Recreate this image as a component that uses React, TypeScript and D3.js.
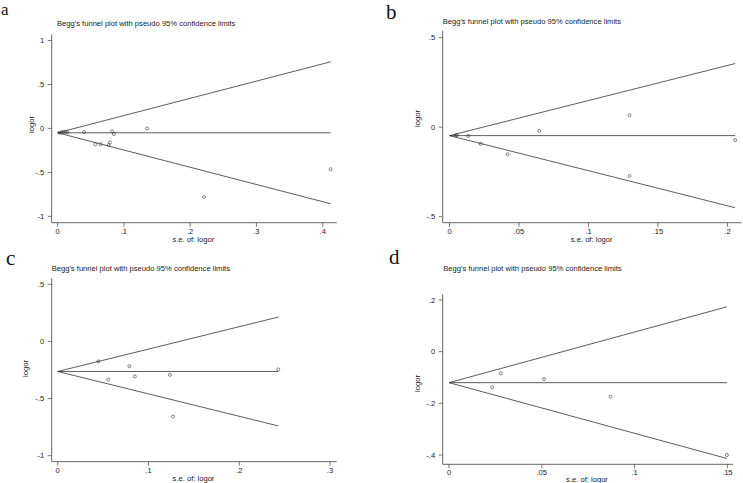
import React from "react";
import * as d3 from "d3";

const TITLE = "Begg's funnel plot with pseudo 95% confidence limits";
const X_TITLE = "s.e. of: logor";
const Y_TITLE = "logor";
const panelLetters = ["a", "b", "c", "d"];

// Panel a
const aSe = [0.003, 0.006, 0.009, 0.012, 0.015, 0.04, 0.057, 0.065, 0.077, 0.079, 0.082, 0.085, 0.135, 0.221, 0.412];
const aLogor = [-0.05, -0.045, -0.04, -0.039, -0.046, -0.042, -0.18, -0.18, -0.19, -0.16, -0.034, -0.065, 0.0, -0.78, -0.465];
const aPooled = -0.05;
const aXTicks = [0, 0.1, 0.2, 0.3, 0.4];
const aYTicks = [-1, -0.5, 0, 0.5, 1];

// Panel b
const bSe = [0.0045, 0.0053, 0.0135, 0.0224, 0.0418, 0.0645, 0.1295, 0.1295, 0.2055];
const bLogor = [-0.047, -0.043, -0.049, -0.093, -0.151, -0.021, 0.067, -0.272, -0.073];
const bPooled = -0.047;
const bXTicks = [0, 0.05, 0.1, 0.15, 0.2];
const bYTicks = [-0.5, 0, 0.5];

// Panel c
const cSe = [0.0447, 0.0557, 0.079, 0.085, 0.1237, 0.127, 0.243];
const cLogor = [-0.175, -0.333, -0.216, -0.306, -0.292, -0.657, -0.245];
const cPooled = -0.263;
const cXTicks = [0, 0.1, 0.2, 0.3];
const cYTicks = [-1, -0.5, 0, 0.5];

// Panel d
const dSe = [0.0233, 0.0279, 0.0512, 0.0871, 0.1498];
const dLogor = [-0.138, -0.084, -0.106, -0.174, -0.4];
const dPooled = -0.12;
const dXTicks = [0, 0.05, 0.1, 0.15];
const dYTicks = [-0.4, -0.2, 0, 0.2];

const FONT = "'Liberation Sans', Arial, Helvetica, sans-serif";
const INK = "#333";

const fmt = (v: number) => {
  if (v === 0) return "0";
  let s = String(+v.toFixed(3));
  s = s.replace(/^(-?)0\./, "$1.");
  return s;
};

type Layout = {
  xDomain: [number, number];
  xRange: [number, number];
  yDomain: [number, number];
  yRange: [number, number];
  yAxisX: number;
  yAxisTop: number;
  xAxisY: number;
  xAxisRight: number;
  letterX: number;
  letterY: number;
  letterSize: number;
  titleX: number;
  titleY: number;
  yTitleX: number;
  yTitleY: number;
  xTitleX: number;
  xTitleY: number;
};

const layouts: Layout[] = [
  {
    xDomain: [0, 0.4], xRange: [57.6, 322.7], yDomain: [-1, 1], yRange: [216.3, 40.5],
    yAxisX: 51.7, yAxisTop: 34.5, xAxisY: 222.7, xAxisRight: 336.7,
    letterX: 1, letterY: 15.4, letterSize: 17, titleX: 57, titleY: 25.6,
    yTitleX: 31, yTitleY: 124.5, xTitleX: 193.3, xTitleY: 241.8,
  },
  {
    xDomain: [0, 0.2], xRange: [449.5, 727.5], yDomain: [-0.5, 0.5], yRange: [216.7, 37.7],
    yAxisX: 442.7, yAxisTop: 30.7, xAxisY: 222.7, xAxisRight: 741.5,
    letterX: 386, letterY: 18.8, letterSize: 21, titleX: 442.7, titleY: 24.3,
    yTitleX: 417, yTitleY: 118.5, xTitleX: 591.7, xTitleY: 241.8,
  },
  {
    xDomain: [0, 0.3], xRange: [57.7, 330], yDomain: [-1, 0.5], yRange: [455.7, 284.3],
    yAxisX: 51.7, yAxisTop: 278.3, xAxisY: 461.7, xAxisRight: 336.7,
    letterX: 6, letterY: 265, letterSize: 21, titleX: 51.7, titleY: 270.8,
    yTitleX: 25.5, yTitleY: 368.5, xTitleX: 193.5, xTitleY: 480.8,
  },
  {
    xDomain: [0, 0.15], xRange: [449, 727.3], yDomain: [-0.4, 0.2], yRange: [455, 300],
    yAxisX: 442.7, yAxisTop: 294.3, xAxisY: 464.3, xAxisRight: 733,
    letterX: 389, letterY: 263.5, letterSize: 21, titleX: 443.3, titleY: 270.8,
    yTitleX: 417, yTitleY: 383.5, xTitleX: 587, xTitleY: 482,
  },
];

const panelData = [
  { se: aSe, logor: aLogor, pooled: aPooled, xTicks: aXTicks, yTicks: aYTicks },
  { se: bSe, logor: bLogor, pooled: bPooled, xTicks: bXTicks, yTicks: bYTicks },
  { se: cSe, logor: cLogor, pooled: cPooled, xTicks: cXTicks, yTicks: cYTicks },
  { se: dSe, logor: dLogor, pooled: dPooled, xTicks: dXTicks, yTicks: dYTicks },
];

function Panel({ idx }: { idx: number }) {
  const L = layouts[idx];
  const D = panelData[idx];
  const x = d3.scaleLinear().domain(L.xDomain).range(L.xRange);
  const y = d3.scaleLinear().domain(L.yDomain).range(L.yRange);
  const maxSe = d3.max(D.se) as number;
  const funnel = d3.line<[number, number]>().x((d) => x(d[0])).y((d) => y(d[1]));
  const funnelPts: [number, number][] = [
    [maxSe, D.pooled + 1.96 * maxSe],
    [0, D.pooled],
    [maxSe, D.pooled - 1.96 * maxSe],
  ];
  const centerPts: [number, number][] = [
    [0, D.pooled],
    [maxSe, D.pooled],
  ];
  const fs = 7.6;
  return (
    <g>
      <text x={L.letterX} y={L.letterY} fontFamily="'Liberation Serif', 'Times New Roman', serif" fontSize={L.letterSize} fill="#111">
        {panelLetters[idx]}
      </text>
      <text x={L.titleX} y={L.titleY} fontFamily={FONT} fontSize={fs} fill="#222">
        {TITLE}
      </text>
      <line x1={L.yAxisX} x2={L.yAxisX} y1={L.yAxisTop} y2={L.xAxisY} stroke="#555" strokeWidth={0.9} />
      <line x1={L.yAxisX} x2={L.xAxisRight} y1={L.xAxisY} y2={L.xAxisY} stroke="#555" strokeWidth={0.9} />
      {D.yTicks.map((t) => (
        <g key={"y" + t}>
          <line x1={L.yAxisX - 4} x2={L.yAxisX} y1={y(t)} y2={y(t)} stroke="#555" strokeWidth={0.8} />
          <text x={L.yAxisX - 7.5} y={y(t)} dy="0.35em" textAnchor="end" fontFamily={FONT} fontSize={fs} fill="#222">
            {fmt(t)}
          </text>
        </g>
      ))}
      {D.xTicks.map((t) => (
        <g key={"x" + t}>
          <line x1={x(t)} x2={x(t)} y1={L.xAxisY} y2={L.xAxisY + 4} stroke="#555" strokeWidth={0.8} />
          <text x={x(t)} y={L.xAxisY + 11} textAnchor="middle" fontFamily={FONT} fontSize={fs} fill="#222">
            {fmt(t)}
          </text>
        </g>
      ))}
      <text
        transform={`translate(${L.yTitleX},${L.yTitleY}) rotate(-90)`}
        dy="0.35em"
        textAnchor="middle"
        fontFamily={FONT}
        fontSize={fs}
        fill="#222"
      >
        {Y_TITLE}
      </text>
      <text x={L.xTitleX} y={L.xTitleY} textAnchor="middle" fontFamily={FONT} fontSize={fs} fill="#222">
        {X_TITLE}
      </text>
      <path d={funnel(funnelPts) || ""} fill="none" stroke={INK} strokeWidth={0.8} />
      <path d={funnel(centerPts) || ""} fill="none" stroke={INK} strokeWidth={0.8} />
      {D.se.map((s, i) => (
        <circle key={i} cx={x(s)} cy={y(D.logor[i])} r={1.5} fill="white" fillOpacity={0} stroke="#333" strokeWidth={0.6} />
      ))}
    </g>
  );
}

export default function App() {
  return (
    <svg
      width={743}
      height={483}
      viewBox="0 0 743 483"
      style={{ position: "absolute", left: 0, top: 0, background: "white" }}
    >
      <rect x={0} y={0} width={743} height={483} fill="white" />
      {layouts.map((_, i) => (
        <Panel key={i} idx={i} />
      ))}
    </svg>
  );
}
